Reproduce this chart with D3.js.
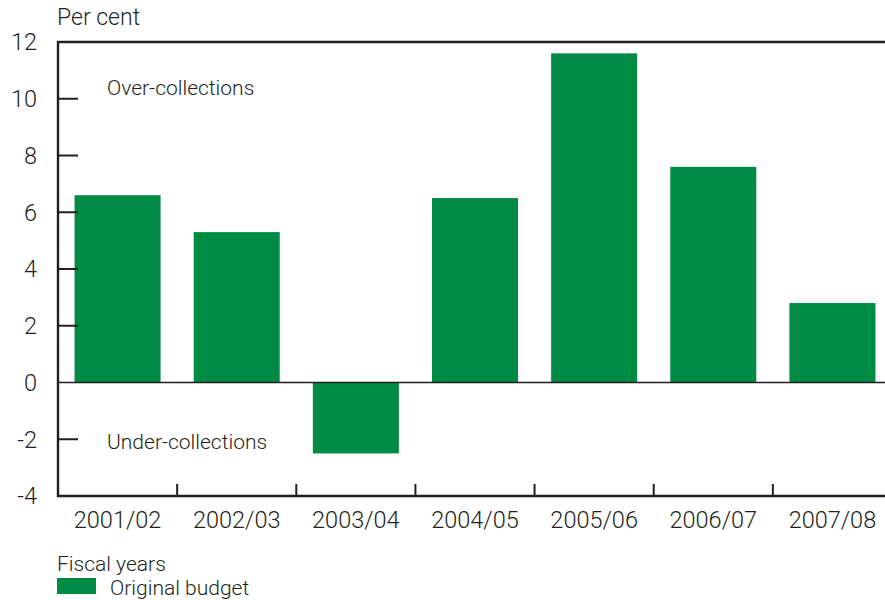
<!DOCTYPE html>
<html>
<head>
<meta charset="utf-8">
<script src="https://cdn.jsdelivr.net/npm/d3@7"></script>
<style>
  html, body { margin: 0; padding: 0; background: #fff; }
  svg { display: block; }
  text { font-family: Roboto, "Liberation Sans", Arial, sans-serif; font-weight: 300; fill: #231f20; }
</style>
</head>
<body>
<svg id="chart" width="885" height="600"></svg>
<script>
// Revenue deviation from original budget, per cent, by fiscal year
const years = ["2001/02", "2002/03", "2003/04", "2004/05", "2005/06", "2006/07", "2007/08"];
const deviation = [6.6, 5.3, -2.5, 6.5, 11.6, 7.6, 2.8];
const yTicks = [-4, -2, 0, 2, 4, 6, 8, 10, 12];

const svg = d3.select("#chart");
const plotL = 58, plotR = 892, plotT = 42, plotB = 496;
const green = "#008b44";
const ink = "#231f20";
const tickSize = 23.5;
const noteSize = 21;

const x = d3.scaleBand().domain(years).range([plotL, plotR]).paddingInner(0.278).paddingOuter(0.139);
const y = d3.scaleLinear().domain([-4, 12]).range([plotB, plotT]);

// Bars
svg.append("g").selectAll("rect")
  .data(years.map((k, i) => ({ k, v: deviation[i] })))
  .join("rect")
  .attr("x", d => x(d.k))
  .attr("width", x.bandwidth())
  .attr("y", d => y(Math.max(0, d.v)))
  .attr("height", d => Math.abs(y(d.v) - y(0)))
  .attr("fill", green);

// Zero line
svg.append("line")
  .attr("x1", plotL).attr("x2", 885)
  .attr("y1", y(0)).attr("y2", y(0))
  .attr("stroke", ink).attr("stroke-width", 1.6);

// Frame: top, left, bottom
svg.append("path")
  .attr("d", `M885,${plotT}H${plotL}V${plotB}H885`)
  .attr("fill", "none").attr("stroke", ink).attr("stroke-width", 2.4);

// Y axis ticks (inward) and labels
const yAxis = svg.append("g");
yAxis.selectAll("line")
  .data(yTicks.filter(t => t > -4 && t < 12 && t !== 0))
  .join("line")
  .attr("x1", plotL).attr("x2", plotL + 20)
  .attr("y1", d => y(d)).attr("y2", d => y(d))
  .attr("stroke", ink).attr("stroke-width", 2);
yAxis.selectAll("text")
  .data(yTicks)
  .join("text")
  .attr("x", 37).attr("y", d => y(d))
  .attr("dy", "0.36em")
  .attr("text-anchor", "end")
  .attr("font-size", tickSize)
  .text(d => d);

// X axis ticks at band boundaries (upward) and labels
const gap = (x.step() - x.bandwidth()) / 2;
const xAxis = svg.append("g");
xAxis.selectAll("line")
  .data(years.slice(1))
  .join("line")
  .attr("x1", d => x(d) - gap)
  .attr("x2", d => x(d) - gap)
  .attr("y1", plotB).attr("y2", plotB - 12)
  .attr("stroke", ink).attr("stroke-width", 2);
xAxis.selectAll("text")
  .data(years)
  .join("text")
  .attr("x", d => x(d) + x.bandwidth() / 2)
  .attr("y", 528)
  .attr("text-anchor", "middle")
  .attr("font-size", tickSize)
  .text(d => d);

// Annotations
svg.append("text").attr("x", 57).attr("y", 25).attr("font-size", 23).text("Per cent");
svg.append("text").attr("x", 107).attr("y", 87).attr("dy", "0.36em").attr("font-size", noteSize).text("Over-collections");
svg.append("text").attr("x", 107).attr("y", 441).attr("dy", "0.36em").attr("font-size", noteSize).text("Under-collections");

// Legend
svg.append("text").attr("x", 57).attr("y", 563).attr("dy", "0.36em").attr("font-size", noteSize).text("Fiscal years");
svg.append("rect").attr("x", 57).attr("y", 578).attr("width", 39).attr("height", 16).attr("fill", green);
svg.append("text").attr("x", 110).attr("y", 587).attr("dy", "0.36em").attr("font-size", noteSize).text("Original budget");
</script>
</body>
</html>
